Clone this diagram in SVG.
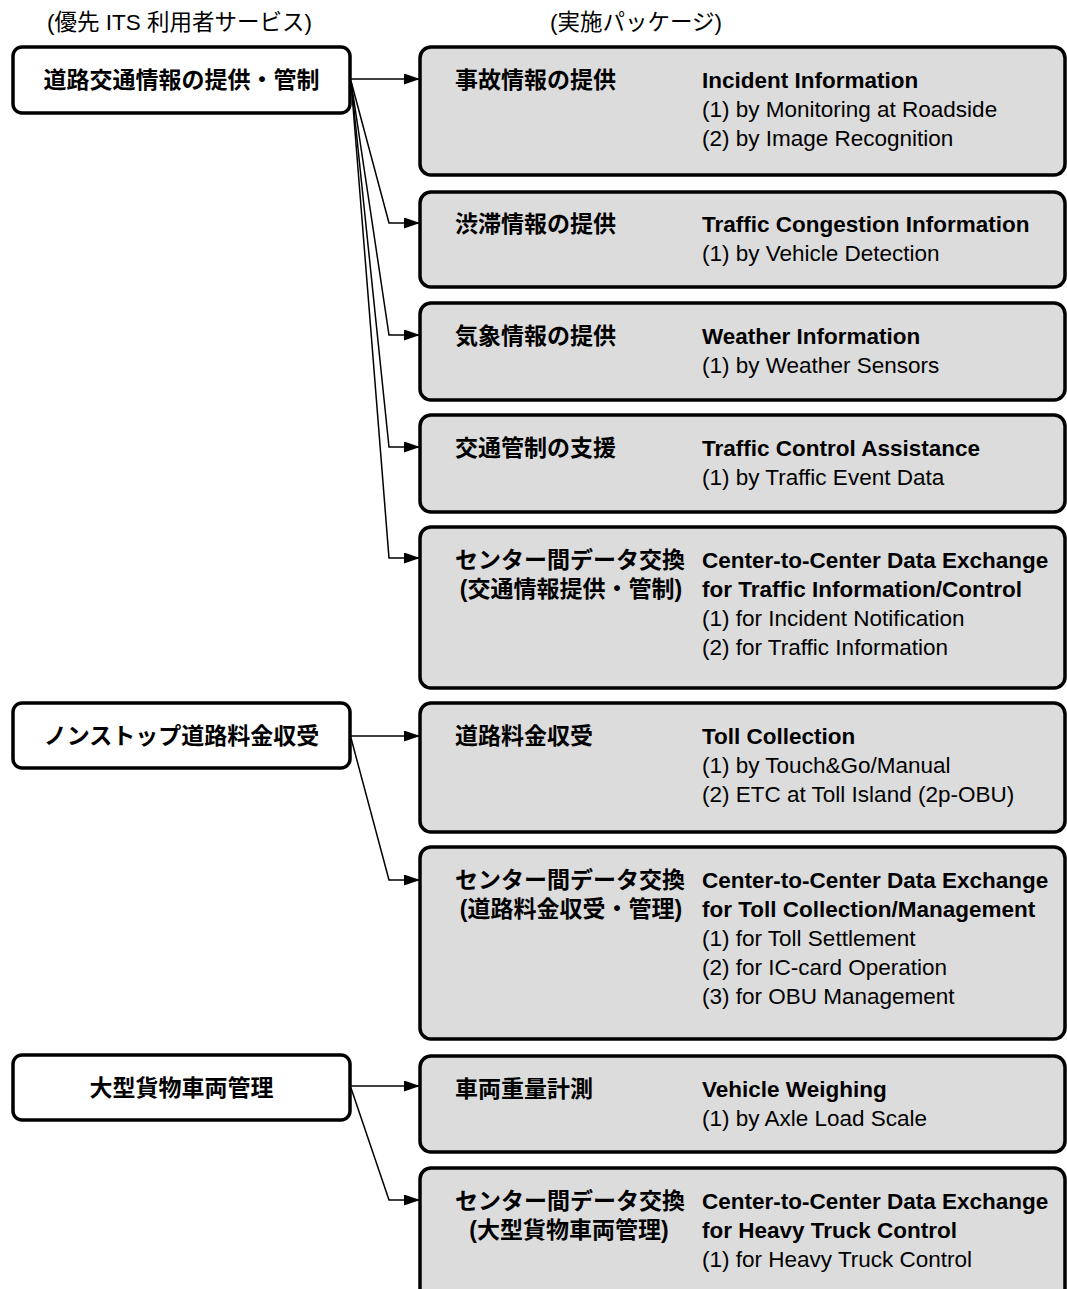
<svg xmlns="http://www.w3.org/2000/svg" width="1067" height="1289" viewBox="0 0 1067 1289">
  <style>
    text { font-family: "Liberation Sans", "Noto Sans CJK JP", sans-serif; fill: #000; }
    .hdr { font-size: 22.5px; }
    .svc { fill: #fff; stroke: #000; stroke-width: 3.5; }
    .pkg { fill: #dcdcdc; stroke: #000; stroke-width: 3.5; }
    .svc-t { font-size: 23px; font-weight: bold; text-anchor: middle; }
    .jp { font-size: 23px; font-weight: bold; }
    .jp2 { font-size: 23px; font-weight: bold; text-anchor: middle; }
    .en { font-size: 22.5px; font-weight: bold; }
    .sub { font-size: 22.5px; }
    .conn { fill: none; stroke: #000; stroke-width: 1.5; marker-end: url(#arrow); }
  </style>
  <defs>
    <marker id="arrow" markerUnits="userSpaceOnUse" markerWidth="17" markerHeight="12" refX="16" refY="5.5" orient="auto">
      <path d="M0,0 L16,5.5 L0,11 Z" fill="#000"/>
    </marker>
  </defs>

  <rect width="1067" height="1289" fill="#fff"/>

  <!-- column headings -->
  <text class="hdr" x="47" y="30">(優先 ITS 利用者サービス)</text>
  <text class="hdr" x="550" y="30">(実施パッケージ)</text>

  <!-- connectors -->
  <g id="connectors">
    <path class="conn" d="M350,79 L420,79"/>
    <path class="conn" d="M351,81 L389,223 L420,223"/>
    <path class="conn" d="M351,81 L389,335 L420,335"/>
    <path class="conn" d="M351,81 L389,447 L420,447"/>
    <path class="conn" d="M351,81 L389,558 L420,558"/>

    <path class="conn" d="M350,736 L420,736"/>
    <path class="conn" d="M351,738 L389,880 L420,880"/>

    <path class="conn" d="M350,1086 L420,1086"/>
    <path class="conn" d="M351,1088 L389,1200 L420,1200"/>
  </g>

  <!-- user services -->
  <g id="svc-traffic-info">
    <rect class="svc" x="13" y="47" width="337" height="66" rx="9"/>
    <text class="svc-t" x="181.5" y="88">道路交通情報の提供・管制</text>
  </g>
  <g id="svc-toll">
    <rect class="svc" x="13" y="703" width="337" height="65" rx="9"/>
    <text class="svc-t" x="181.5" y="744">ノンストップ道路料金収受</text>
  </g>
  <g id="svc-truck">
    <rect class="svc" x="13" y="1055" width="337" height="65" rx="9"/>
    <text class="svc-t" x="181.5" y="1096">大型貨物車両管理</text>
  </g>

  <!-- packages -->
  <g id="pkg-incident">
    <rect class="pkg" x="420" y="47" width="645" height="128" rx="11"/>
    <text class="jp" x="455" y="88">事故情報の提供</text>
    <text class="en" x="702" y="88">Incident Information</text>
    <text class="sub" x="702" y="117">(1) by Monitoring at Roadside</text>
    <text class="sub" x="702" y="146">(2) by Image Recognition</text>
  </g>
  <g id="pkg-congestion">
    <rect class="pkg" x="420" y="192" width="645" height="95" rx="11"/>
    <text class="jp" x="455" y="232">渋滞情報の提供</text>
    <text class="en" x="702" y="232">Traffic Congestion Information</text>
    <text class="sub" x="702" y="261">(1) by Vehicle Detection</text>
  </g>
  <g id="pkg-weather">
    <rect class="pkg" x="420" y="303" width="645" height="97" rx="11"/>
    <text class="jp" x="455" y="344">気象情報の提供</text>
    <text class="en" x="702" y="344">Weather Information</text>
    <text class="sub" x="702" y="373">(1) by Weather Sensors</text>
  </g>
  <g id="pkg-control">
    <rect class="pkg" x="420" y="415" width="645" height="97" rx="11"/>
    <text class="jp" x="455" y="456">交通管制の支援</text>
    <text class="en" x="702" y="456">Traffic Control Assistance</text>
    <text class="sub" x="702" y="485">(1) by Traffic Event Data</text>
  </g>
  <g id="pkg-c2c-traffic">
    <rect class="pkg" x="420" y="527" width="645" height="161" rx="11"/>
    <text class="jp" x="455" y="568">センター間データ交換</text>
    <text class="jp2" x="571" y="597">(交通情報提供・管制)</text>
    <text class="en" x="702" y="568">Center-to-Center Data Exchange</text>
    <text class="en" x="702" y="597">for Traffic Information/Control</text>
    <text class="sub" x="702" y="626">(1) for Incident Notification</text>
    <text class="sub" x="702" y="655">(2) for Traffic Information</text>
  </g>
  <g id="pkg-toll">
    <rect class="pkg" x="420" y="703" width="645" height="129" rx="11"/>
    <text class="jp" x="455" y="744">道路料金収受</text>
    <text class="en" x="702" y="744">Toll Collection</text>
    <text class="sub" x="702" y="773">(1) by Touch&amp;Go/Manual</text>
    <text class="sub" x="702" y="802">(2) ETC at Toll Island (2p-OBU)</text>
  </g>
  <g id="pkg-c2c-toll">
    <rect class="pkg" x="420" y="847" width="645" height="192" rx="11"/>
    <text class="jp" x="455" y="888">センター間データ交換</text>
    <text class="jp2" x="571" y="917">(道路料金収受・管理)</text>
    <text class="en" x="702" y="888">Center-to-Center Data Exchange</text>
    <text class="en" x="702" y="917">for Toll Collection/Management</text>
    <text class="sub" x="702" y="946">(1) for Toll Settlement</text>
    <text class="sub" x="702" y="975">(2) for IC-card Operation</text>
    <text class="sub" x="702" y="1004">(3) for OBU Management</text>
  </g>
  <g id="pkg-weighing">
    <rect class="pkg" x="420" y="1056" width="645" height="96" rx="11"/>
    <text class="jp" x="455" y="1097">車両重量計測</text>
    <text class="en" x="702" y="1097">Vehicle Weighing</text>
    <text class="sub" x="702" y="1126">(1) by Axle Load Scale</text>
  </g>
  <g id="pkg-c2c-truck">
    <rect class="pkg" x="420" y="1168" width="645" height="140" rx="11"/>
    <text class="jp" x="455" y="1209">センター間データ交換</text>
    <text class="jp2" x="569" y="1238">(大型貨物車両管理)</text>
    <text class="en" x="702" y="1209">Center-to-Center Data Exchange</text>
    <text class="en" x="702" y="1238">for Heavy Truck Control</text>
    <text class="sub" x="702" y="1267">(1) for Heavy Truck Control</text>
  </g>
</svg>
